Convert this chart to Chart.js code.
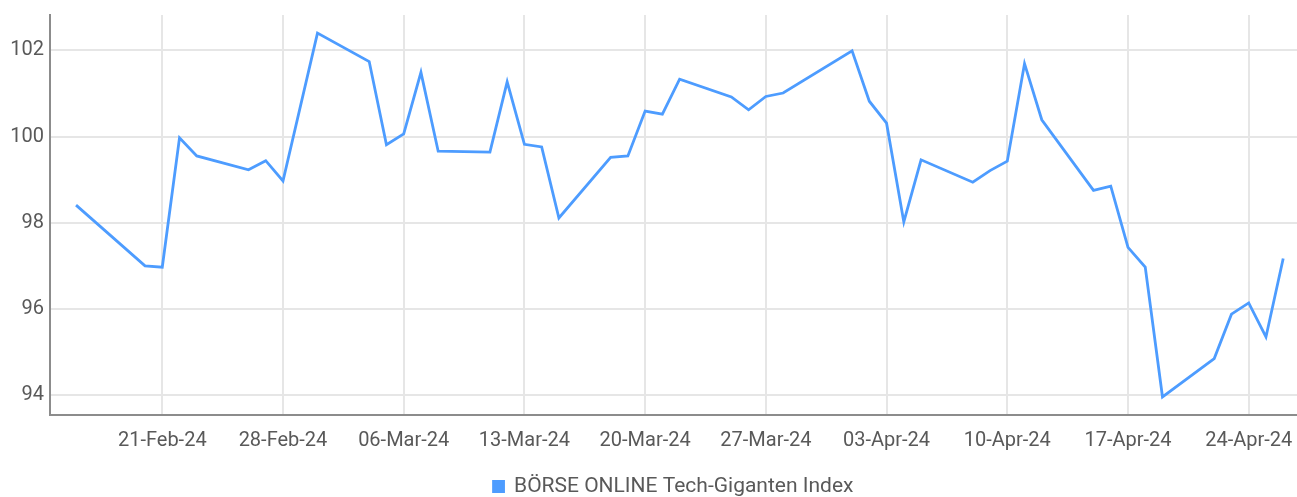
<!DOCTYPE html>
<html>
<head>
<meta charset="utf-8">
<script src="https://cdn.jsdelivr.net/npm/chart.js@4.4.1/dist/chart.umd.min.js"></script>
<style>
  html, body { margin: 0; padding: 0; background: #fff; }
  #wrap { width: 1297px; height: 497px; position: relative; }
</style>
</head>
<body>
<div id="wrap"><canvas id="indexChart"></canvas></div>
<script>
// Handelstage und Schlusskurse
const tradeDates = [
  '2024-02-16','2024-02-20','2024-02-21','2024-02-22','2024-02-23','2024-02-26','2024-02-27','2024-02-28',
  '2024-03-01','2024-03-04','2024-03-05','2024-03-06','2024-03-07','2024-03-08','2024-03-11','2024-03-12',
  '2024-03-13','2024-03-14','2024-03-15','2024-03-18','2024-03-19','2024-03-20','2024-03-21','2024-03-22',
  '2024-03-25','2024-03-26','2024-03-27','2024-03-28',
  '2024-04-01','2024-04-02','2024-04-03','2024-04-04','2024-04-05','2024-04-08','2024-04-09','2024-04-10',
  '2024-04-11','2024-04-12','2024-04-15','2024-04-16','2024-04-17','2024-04-18','2024-04-19','2024-04-22',
  '2024-04-23','2024-04-24','2024-04-25','2024-04-26'
];

const indexValues = [
  98.41, 97.00, 96.97, 99.97, 99.55, 99.23, 99.44, 98.97,
  102.40, 101.74, 99.81, 100.06, 101.49, 99.66, 99.64, 101.27,
  99.82, 99.76, 98.11, 99.52, 99.55, 100.59, 100.52, 101.33,
  100.92, 100.62, 100.93, 101.01,
  101.99, 100.82, 100.31, 98.02, 99.46, 98.94, 99.21, 99.43,
  101.69, 100.39, 98.75, 98.85, 97.43, 96.97, 93.96, 94.85,
  95.88, 96.14, 95.35, 97.17
];

const xTickDates = [
  '2024-02-21','2024-02-28','2024-03-06','2024-03-13','2024-03-20',
  '2024-03-27','2024-04-03','2024-04-10','2024-04-17','2024-04-24'
];

const yTicks = [94, 96, 98, 100, 102];

const seriesName = 'BÖRSE ONLINE Tech-Giganten Index';

const MONTHS = ['Jan','Feb','Mar','Apr','May','Jun','Jul','Aug','Sep','Oct','Nov','Dec'];
const DAY_MS = 86400000;
const baseDay = Date.UTC(2024, 1, 16);

function toDay(iso) {
  const [y, m, d] = iso.split('-').map(Number);
  return (Date.UTC(y, m - 1, d) - baseDay) / DAY_MS;
}

function fmtDay(day) {
  const dt = new Date(baseDay + day * DAY_MS);
  const dd = String(dt.getUTCDate()).padStart(2, '0');
  const yy = String(dt.getUTCFullYear()).slice(2);
  return `${dd}-${MONTHS[dt.getUTCMonth()]}-${yy}`;
}

const FONT = 'Roboto, sans-serif';
const TEXT = '#595959';
const GRID = '#e6e6e6';
const AXIS = '#8c8c8c';
const LINE = '#4d9cff';

const points = tradeDates.map((d, i) => ({ x: toDay(d), y: indexValues[i] }));

// keep the plot area fixed: no extra room reserved for overhanging labels
function noLabelPadding(scale) {
  scale.paddingLeft = 0;
  scale.paddingRight = 0;
  scale.paddingTop = 0;
  scale.paddingBottom = 0;
}

const ctx = document.getElementById('indexChart').getContext('2d');

new Chart(ctx, {
  type: 'line',
  data: {
    datasets: [{
      label: seriesName,
      data: points,
      borderColor: LINE,
      backgroundColor: LINE,
      borderWidth: 2.8,
      pointRadius: 0,
      tension: 0,
      fill: false,
    }]
  },
  options: {
    responsive: true,
    maintainAspectRatio: false,
    animation: false,
    // negative bottom padding pushes the legend down to the canvas edge
    layout: { padding: { top: 15, right: 0, left: 0, bottom: -10 } },
    plugins: {
      tooltip: { enabled: false },
      legend: {
        position: 'bottom',
        fullSize: false,
        labels: {
          color: TEXT,
          font: { family: FONT, size: 21 },
          boxWidth: 10,
          boxHeight: 10,
          padding: 4,
        },
      },
    },
    scales: {
      x: {
        type: 'linear',
        min: -1.51,
        max: 70.8,
        afterBuildTicks: scale => {
          scale.ticks = xTickDates.map(d => ({ value: toDay(d) }));
        },
        afterFit: scale => { scale.height = 57; noLabelPadding(scale); },
        grid: { color: GRID, lineWidth: 2, drawTicks: false },
        border: { color: AXIS, width: 2 },
        ticks: {
          color: TEXT,
          font: { family: FONT, size: 20 },
          padding: 14,
          maxRotation: 0,
          autoSkip: false,
          callback: v => fmtDay(v),
        },
      },
      y: {
        min: 93.54,
        max: 102.82,
        afterBuildTicks: scale => {
          scale.ticks = yTicks.map(v => ({ value: v }));
        },
        afterFit: scale => { scale.width = 50; noLabelPadding(scale); },
        grid: { color: GRID, lineWidth: 2, drawTicks: false },
        border: { color: AXIS, width: 2 },
        ticks: {
          color: TEXT,
          font: { family: FONT, size: 20 },
          padding: 6,
        },
      },
    },
  },
});
</script>
</body>
</html>
